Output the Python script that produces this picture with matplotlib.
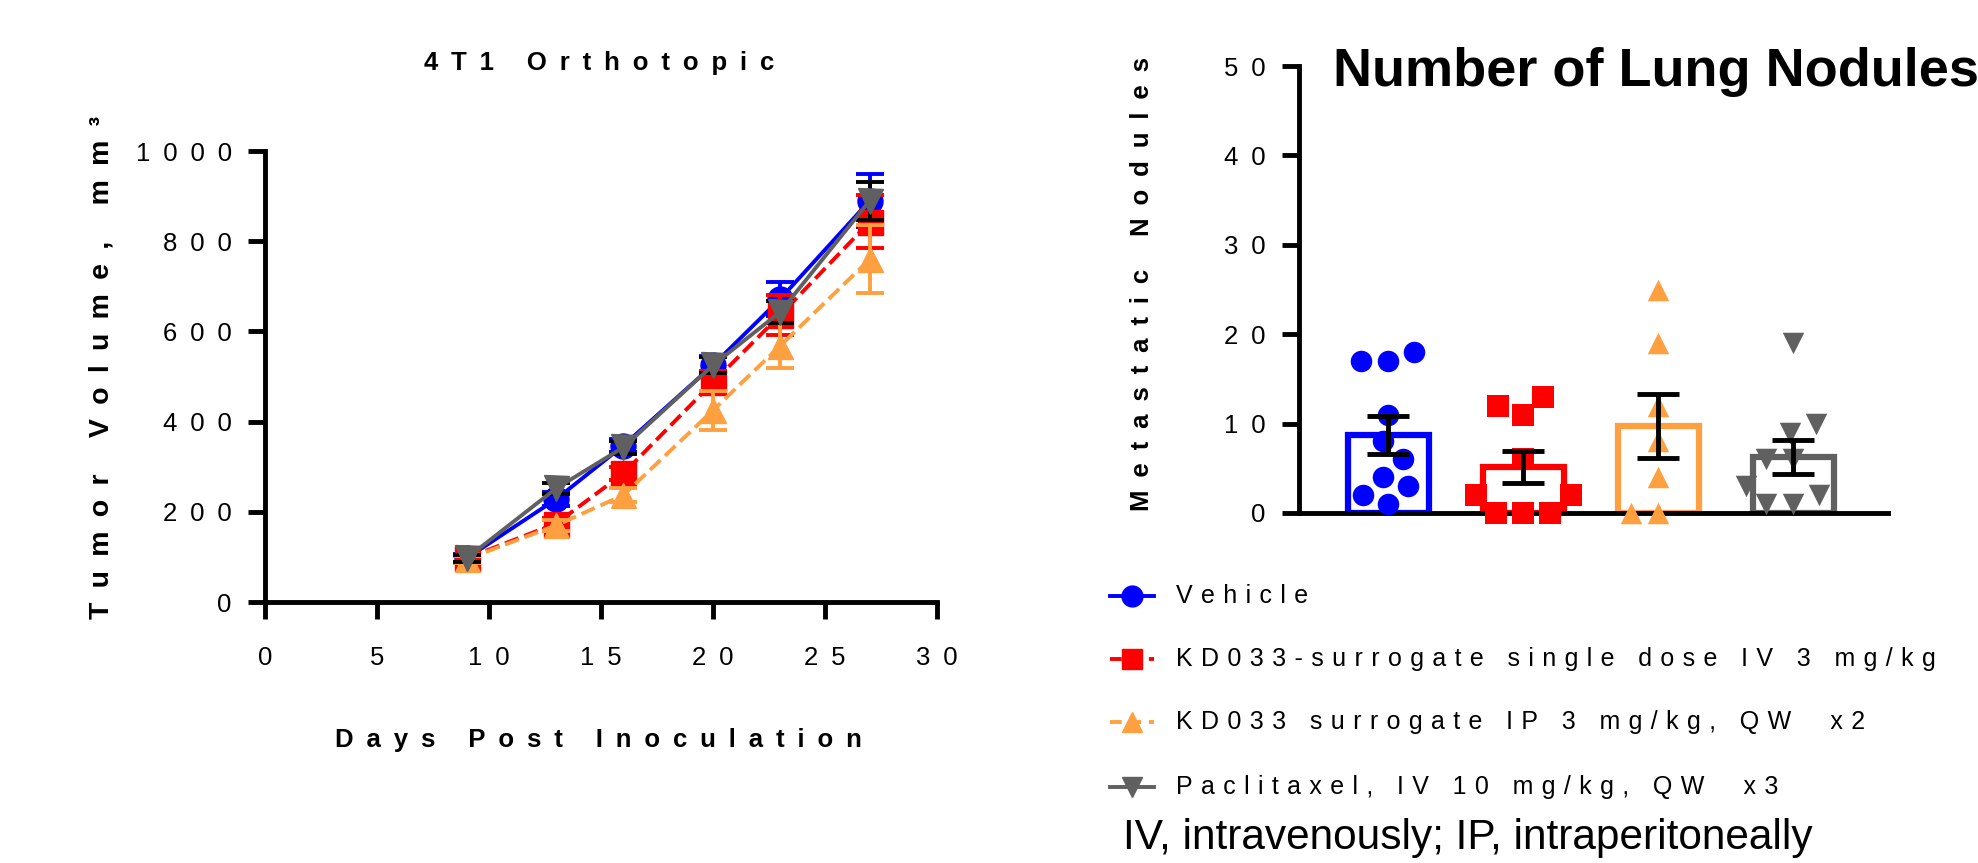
import numpy as np
import matplotlib
matplotlib.use("Agg")
import matplotlib.pyplot as plt
from matplotlib.lines import Line2D

plt.rcParams['font.family'] = ['Liberation Sans', 'DejaVu Sans']

# --- tumour growth (mean +/- SEM) ---
days = [9, 13, 16, 20, 23, 27]
vehicle = [97, 228, 347, 525, 672, 890]
vehicle_sem = [10, 15, 15, 20, 37, 58]
kd_single = [97, 174, 285, 487, 636, 843]
kd_single_sem = [8, 12, 15, 25, 44, 59]
kd_ip = [95, 170, 237, 425, 568, 760]
kd_ip_sem = [8, 12, 15, 43, 50, 75]
paclitaxel = [97, 252, 343, 525, 643, 890]
paclitaxel_sem = [8, 12, 15, 18, 25, 42]

# --- lung nodules per animal ---
nod_vehicle = [17, 17, 18, 11, 8, 6, 4, 3, 2, 1]
nod_kd_single = [13, 12, 11, 6, 2, 2, 0, 0, 0]
nod_kd_ip = [25, 19, 12, 8, 4, 0, 0]
nod_paclitaxel = [19, 10, 9, 6, 6, 3, 2, 1, 1]
bar_means = [8.7, 5.1, 9.7, 6.3]
bar_sems = [2.1, 1.8, 3.6, 1.9]

legend_labels = ['Vehicle',
                 'KD033-surrogate single dose IV 3 mg/kg',
                 'KD033 surrogate IP 3 mg/kg, QW  x2',
                 'Paclitaxel, IV 10 mg/kg, QW  x3']

colors = ['#0000ff', '#ff0000', '#ffa040', '#606060']
markers = ['o', 's', '^', 'v']
styles = ['-', '--', '--', '-']

EN = '\u2002'
THIRD = '\u2004'


def track(s, gap=EN):
    # letter-spaced text, as in the exported figure
    return gap.join(s)


def swarm(vals, xpx, ypx, d):
    # simple beeswarm: place each point as near the centre as possible
    vals = np.asarray(vals, float)
    offs = np.zeros(len(vals))
    pts = []
    for i in np.argsort(vals, kind='stable'):
        y = vals[i] * ypx
        cands = [0.0]
        for px, py in pts:
            dy = abs(py - y)
            if dy < d:
                dx = np.sqrt(d * d - dy * dy)
                cands += [px - dx, px + dx]
        cands.sort(key=lambda c: (abs(c), c))
        for c in cands:
            if all((c - px) ** 2 + (y - py) ** 2 >= d * d - 1e-6 for px, py in pts):
                break
        pts.append((c, y))
        offs[i] = c / xpx
    return offs


fig = plt.figure(figsize=(19.78, 8.63), dpi=100)
W, H = 1978, 863

# ================= left: growth curves =================
ax = fig.add_axes([265 / W, 1 - 602 / H, 672 / W, 451 / H])
series = [(kd_single, kd_single_sem), (kd_ip, kd_ip_sem), (vehicle, vehicle_sem), (paclitaxel, paclitaxel_sem)]
order = [1, 2, 0, 3]
for k, (vals, err) in zip(order, series):
    ecol = 'black' if k == 3 else colors[k]
    ax.errorbar(days, vals, yerr=err, color=colors[k], ecolor=ecol, linestyle=styles[k],
                marker=markers[k], markersize=18, linewidth=2.8, elinewidth=2.8,
                capsize=10, capthick=2.8, clip_on=False, zorder=3 + k)

ax.set_xlim(0, 30)
ax.set_ylim(0, 1000)
ax.set_xticks(range(0, 31, 5))
ax.set_xticklabels([track(str(v)) for v in range(0, 31, 5)])
ax.set_yticks(range(0, 1001, 200))
ax.set_yticklabels([track(str(v)) for v in range(0, 1001, 200)])
for s in ['top', 'right']:
    ax.spines[s].set_visible(False)
for s in ['left', 'bottom']:
    ax.spines[s].set_linewidth(3.5)
ax.tick_params(width=3.5, length=12, labelsize=18.5)
ax.tick_params(axis='x', pad=20)
ax.tick_params(axis='y', pad=12)
fig.text(599 / W, 1 - 63 / H, track('4T1 Orthotopic'), fontsize=18.5, fontweight='bold',
         ha='center', va='center')
ax.set_xlabel(track('Days Post Inoculation'), fontsize=18.5, fontweight='bold')
ax.xaxis.set_label_coords(0.496, -0.279)
ax.set_ylabel(track('Tumor Volume, mm³'), fontsize=20.5, fontweight='bold', va='center')
ax.yaxis.set_label_coords(-0.244, 0.52)

# ================= right: lung nodules =================
bx = fig.add_axes([1299 / W, 1 - 513 / H, 589 / W, 447 / H])
groups = [nod_vehicle, nod_kd_single, nod_kd_ip, nod_paclitaxel]
xpos = np.arange(len(groups))
bx.set_xlim(-0.66, 3.70)
bx.set_ylim(0, 50)
bx.bar(xpos, bar_means, width=0.6, color='white', edgecolor=colors, linewidth=4.5, zorder=2)
for i, g in enumerate(groups):
    off = swarm(g, 135, 8.94, 27)
    bx.scatter(xpos[i] + off, g, s=240, marker=markers[i], color=colors[i],
               linewidths=0, clip_on=False, zorder=3)
bx.errorbar(xpos, bar_means, yerr=bar_sems, fmt='none', ecolor='black',
            elinewidth=3.5, capsize=15, capthick=3.5, zorder=4)
bx.set_xticks([])
bx.set_yticks(range(0, 51, 10))
bx.set_yticklabels([track(str(v)) for v in range(0, 51, 10)])
for s in ['top', 'right']:
    bx.spines[s].set_visible(False)
for s in ['left', 'bottom']:
    bx.spines[s].set_linewidth(3.5)
bx.tick_params(width=3.5, length=12, labelsize=18.5, pad=12)
bx.set_ylabel(track('Metastatic Nodules'), fontsize=18.5, fontweight='bold', va='center')
bx.yaxis.set_label_coords(-0.2666, 0.512)
fig.text(1333 / W, 1 - 86 / H, 'Number of Lung Nodules', fontsize=39, fontweight='bold',
         ha='left', va='baseline')

# ================= legend (drawn by hand, rows as in the figure) =================
row_y = [596, 659, 722, 787]
for k in range(4):
    y = 1 - row_y[k] / H
    fig.add_artist(Line2D([1110 / W, 1154 / W], [y, y], transform=fig.transFigure,
                          color=colors[k], linestyle=styles[k], linewidth=2.8,
                          dashes=(3, 2) if styles[k] == '--' else (None, None)))
    fig.add_artist(Line2D([1132 / W], [y], transform=fig.transFigure, color=colors[k],
                          marker=markers[k], markersize=15, linestyle='none'))
    fig.text(1176 / W, y, track(legend_labels[k], THIRD), fontsize=18, ha='left', va='center')
fig.text(1123 / W, 1 - 838 / H, 'IV, intravenously; IP, intraperitoneally',
         fontsize=30.5, ha='left', va='center')

fig.savefig('out.png', dpi=100)
